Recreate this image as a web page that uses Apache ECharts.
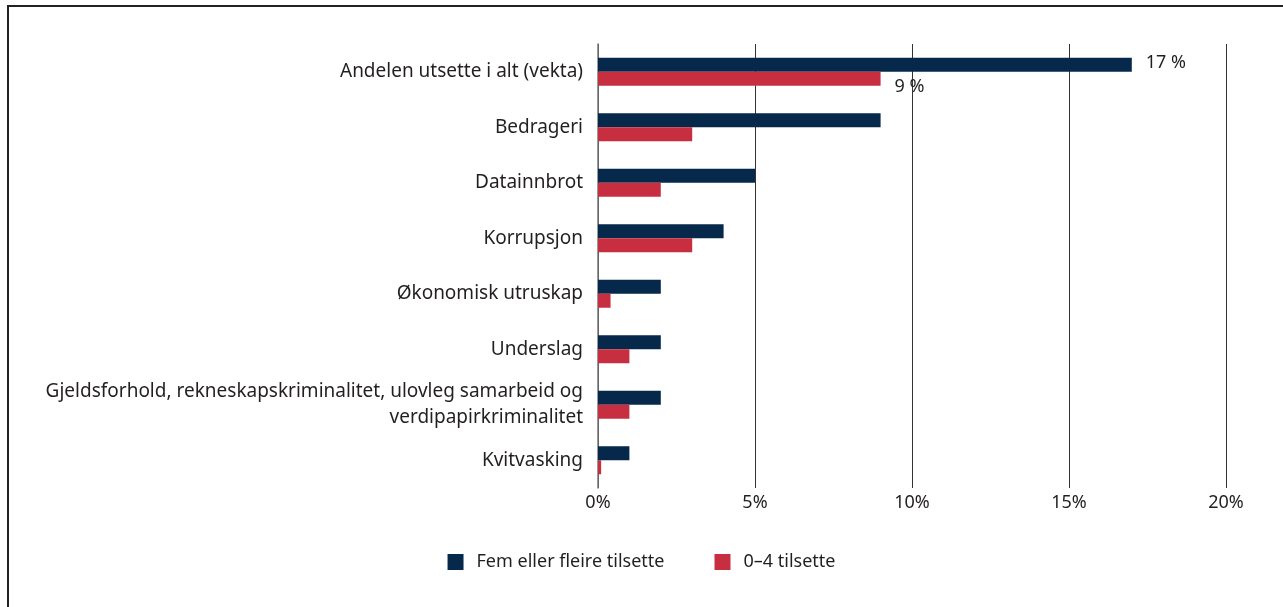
<!DOCTYPE html>
<html>
<head>
<meta charset="utf-8">
<title>Utsette verksemder</title>
<script src="https://cdn.jsdelivr.net/npm/echarts@6/dist/echarts.min.js"></script>
<style>
    html, body { margin: 0; padding: 0; background: #fff; }
    #main { width: 1283px; height: 607px; }
</style>
</head>
<body>
<div id="main"></div>
<script>
// Categories, top to bottom
var categories = [
    'Andelen utsette i alt (vekta)',
    'Bedrageri',
    'Datainnbrot',
    'Korrupsjon',
    'Økonomisk utruskap',
    'Underslag',
    'Gjeldsforhold, rekneskapskriminalitet, ulovleg samarbeid og\nverdipapirkriminalitet',
    'Kvitvasking'
];
var seriesNames = ['Fem eller fleire tilsette', '0–4 tilsette'];
// Values in percent
var femEllerFleire = [17, 9, 5, 4, 2, 2, 2, 1];
var nullTilFire = [9, 3, 2, 3, 0.4, 1, 1, 0.1];
var xTicks = [0, 5, 10, 15, 20];

var fontFamily = '"Noto Sans", "Open Sans", sans-serif';
var textColor = '#231f20';

var chart = echarts.init(document.getElementById('main'));

// only the first bar of each series carries a value label
function firstLabel(offset) {
    return {
        show: true,
        position: 'right',
        distance: 14,
        offset: offset,
        fontFamily: fontFamily,
        fontSize: 18,
        color: textColor,
        formatter: function (p) {
            return p.dataIndex === 0 ? p.value + ' %' : '';
        }
    };
}

var option = {
    animation: false,
    backgroundColor: '#fff',
    textStyle: { fontFamily: fontFamily },
    graphic: [{
        type: 'rect',
        shape: { x: 8, y: 6, width: 1400, height: 700 },
        style: { fill: 'none', stroke: '#222', lineWidth: 2 },
        silent: true
    }],
    legend: {
        left: 'center',
        top: 548,
        icon: 'rect',
        itemWidth: 16,
        itemHeight: 16,
        itemGap: 50,
        textStyle: { fontFamily: fontFamily, fontSize: 18, color: textColor, padding: [0, 0, 0, 8] },
        data: seriesNames
    },
    grid: {
        left: 598,
        right: 57,
        top: 44,
        bottom: 119,
        containLabel: false
    },
    xAxis: {
        type: 'value',
        min: xTicks[0],
        max: xTicks[xTicks.length - 1],
        interval: 5,
        axisLine: { show: false },
        axisTick: { show: false },
        axisLabel: {
            margin: 6,
            fontFamily: fontFamily,
            fontSize: 18,
            color: textColor,
            formatter: '{value}%'
        },
        splitLine: { show: true, lineStyle: { color: '#333', width: 1 } }
    },
    yAxis: {
        type: 'category',
        inverse: true,
        data: categories,
        axisLine: { show: true, lineStyle: { color: '#777', width: 1.5 } },
        axisTick: { show: false },
        axisLabel: {
            margin: 15,
            align: 'right',
            fontFamily: fontFamily,
            fontSize: 19,
            lineHeight: 26,
            color: textColor
        }
    },
    series: [
        {
            name: seriesNames[0],
            type: 'bar',
            data: femEllerFleire,
            barWidth: 14,
            barGap: '0%',
            itemStyle: { color: '#06294b' },
            label: firstLabel([0, -2])
        },
        {
            name: seriesNames[1],
            type: 'bar',
            data: nullTilFire,
            barWidth: 14,
            itemStyle: { color: '#c72f40' },
            label: firstLabel([0, 8])
        }
    ]
};

chart.setOption(option);
</script>
</body>
</html>
